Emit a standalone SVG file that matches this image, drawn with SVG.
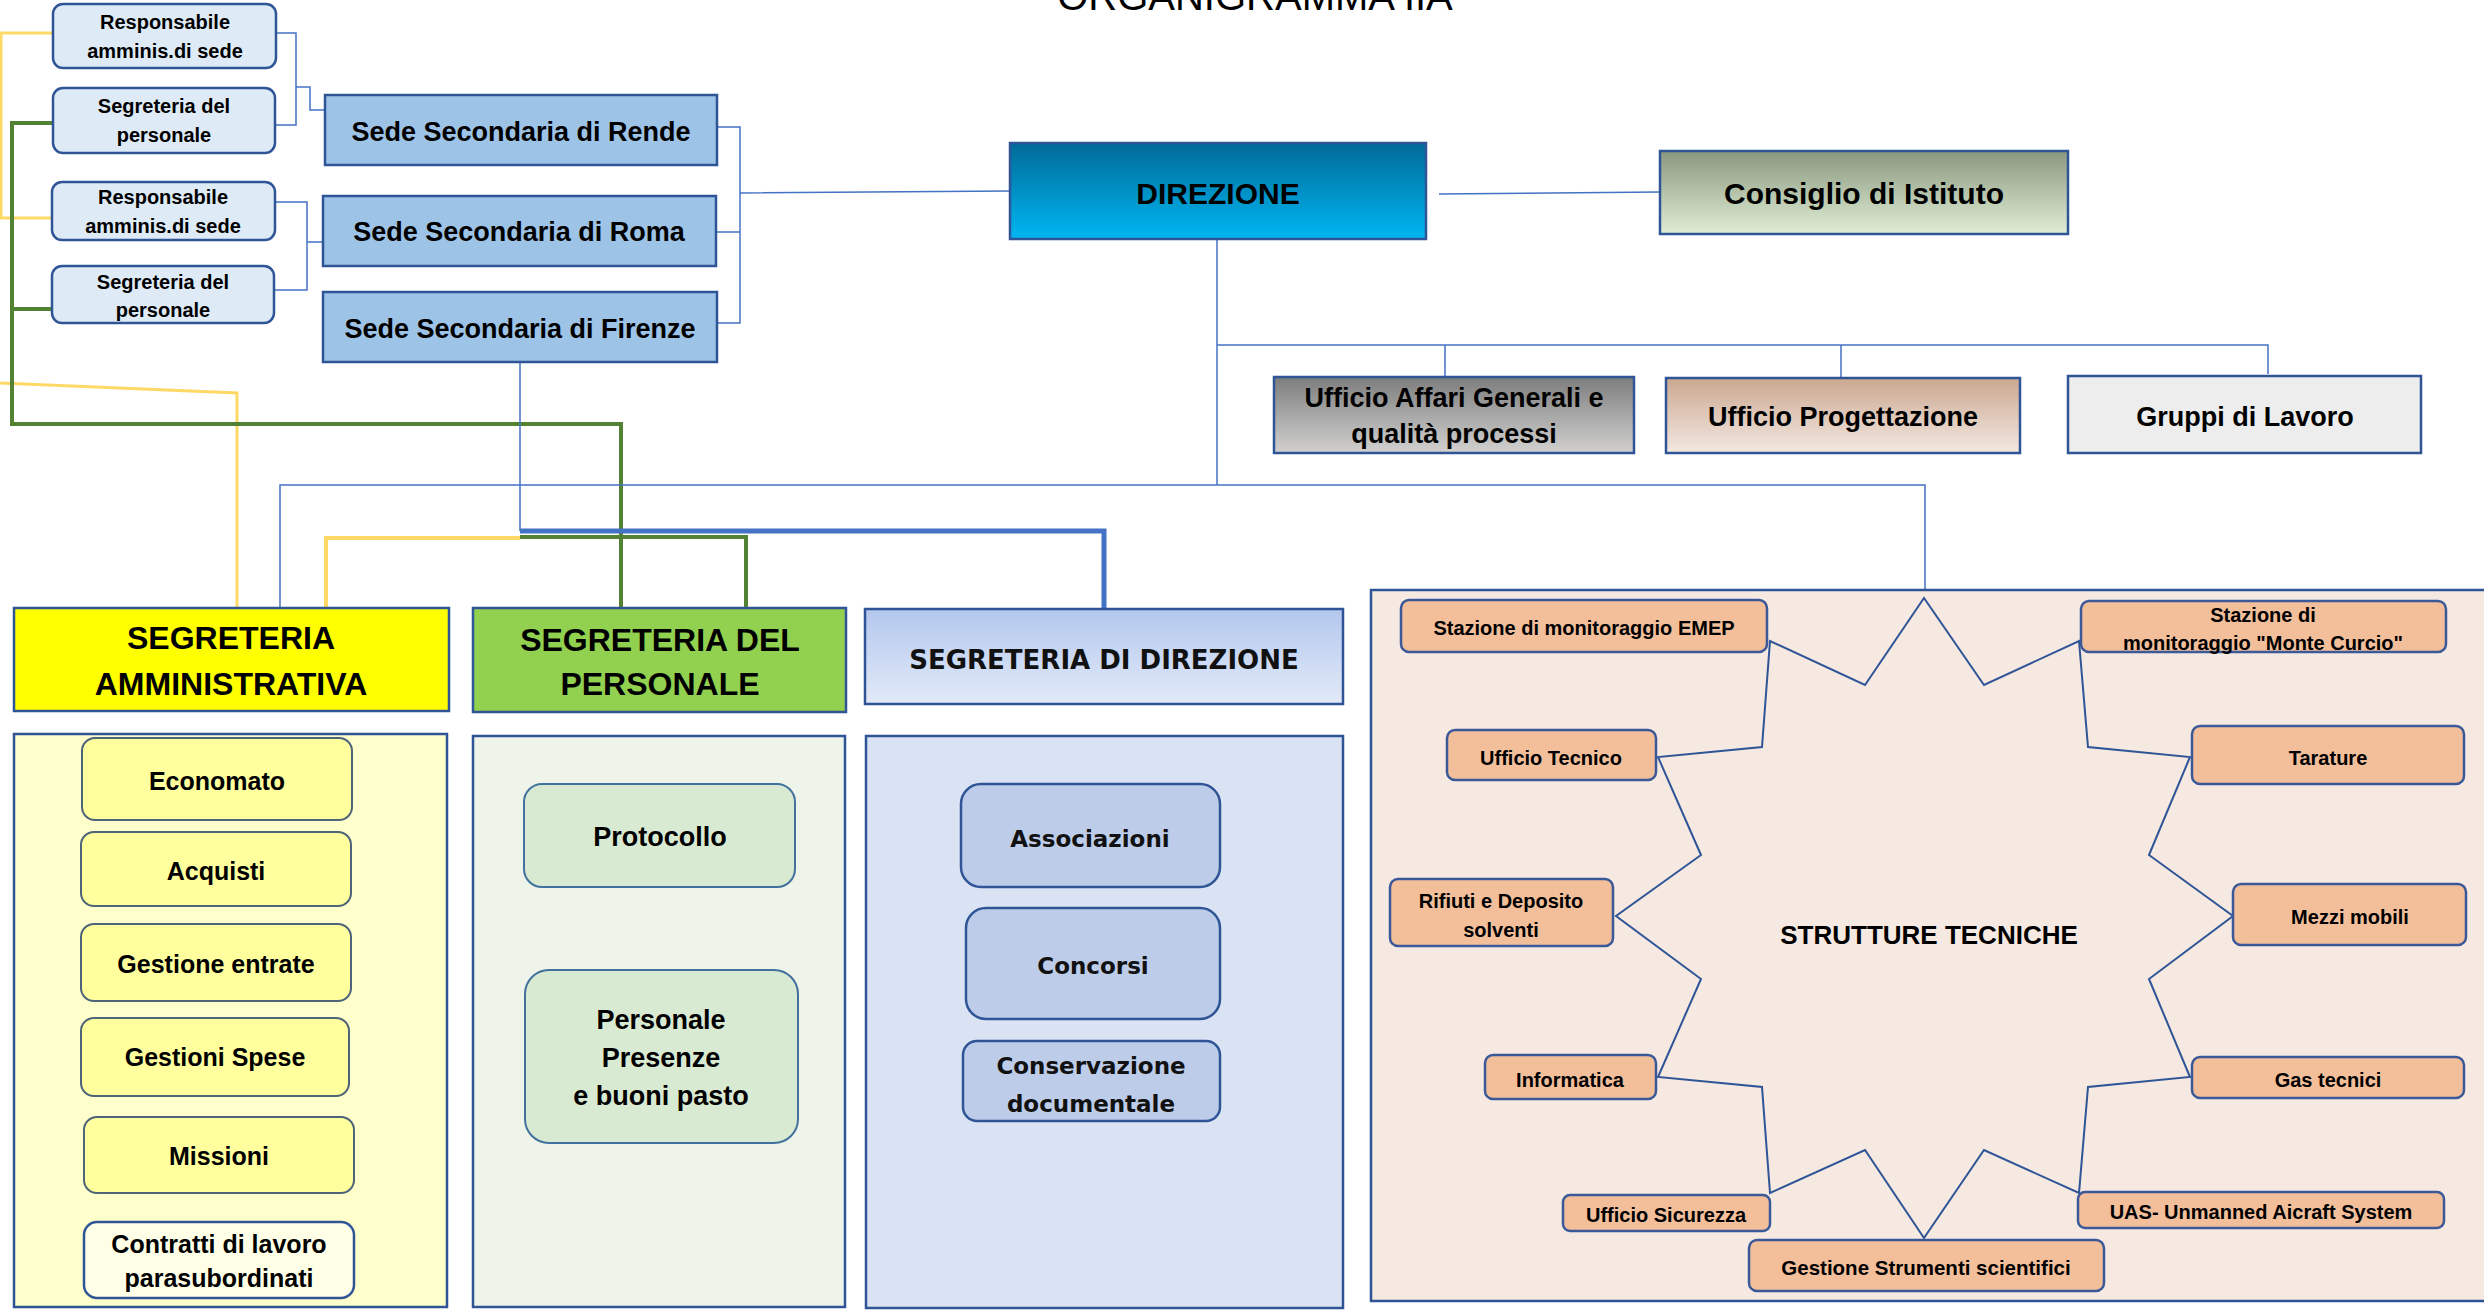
<svg xmlns="http://www.w3.org/2000/svg" width="2484" height="1312" viewBox="0 0 2484 1312">
<defs>
<linearGradient id="gDir" x1="0" y1="0" x2="0" y2="1"><stop offset="0" stop-color="#006A98"/><stop offset="1" stop-color="#00B6F2"/></linearGradient>
<linearGradient id="gCons" x1="0" y1="0" x2="0" y2="1"><stop offset="0" stop-color="#8A9880"/><stop offset="1" stop-color="#DFEED5"/></linearGradient>
<linearGradient id="gAff" x1="0" y1="0" x2="0" y2="1"><stop offset="0" stop-color="#7D7D7D"/><stop offset="1" stop-color="#D2D1D0"/></linearGradient>
<linearGradient id="gProg" x1="0" y1="0" x2="0" y2="1"><stop offset="0" stop-color="#CBA891"/><stop offset="1" stop-color="#F3E8E1"/></linearGradient>
<linearGradient id="gSDir" x1="0" y1="0" x2="0" y2="1"><stop offset="0" stop-color="#B3C7EE"/><stop offset="1" stop-color="#E2EAF8"/></linearGradient>
</defs>
<style>
.box{stroke:#2F5597;stroke-width:2.5}
.t{font-family:"Liberation Sans",Arial,sans-serif;font-weight:bold;text-anchor:middle;fill:#000}
.r{font-family:"Liberation Sans",Arial,sans-serif;text-anchor:middle;fill:#000}
.d{font-family:"DejaVu Sans",Verdana,sans-serif;font-weight:bold;text-anchor:middle;fill:#111}
.small{fill:#DEEBF7;stroke:#2F5597;stroke-width:2.5}
.sede{fill:#9DC3E6;stroke:#2F5597;stroke-width:2.5}
.yb{fill:#FFFF9E;stroke:#4E6479;stroke-width:2}
.gb{fill:#D9EAD3;stroke:#41719C;stroke-width:2}
.bb{fill:#BDCDE9;stroke:#2F5597;stroke-width:2.5}
.pb{fill:#F3BF9B;stroke:#3B5998;stroke-width:2.5}
.thin{fill:none;stroke:#4472C4;stroke-width:1.5}
.thick{fill:none;stroke:#4472C4;stroke-width:5}
.yel{fill:none;stroke:#FFD966;stroke-width:3}
.grn{fill:none;stroke:#548235;stroke-width:4}
.grn2{fill:none;stroke:#6A9F48;stroke-width:3.5}
.blu2{fill:none;stroke:#4472C4;stroke-width:4}
.yel2{fill:none;stroke:#FFD966;stroke-width:4}
</style>
<rect width="2484" height="1312" fill="#FFFFFF"/>
<text class="r" x="1255" y="10" font-size="40">ORGANIGRAMMA IIA</text>

<g id="connectors">
<path class="thin" d="M277,33 H296 V125 H275 M296,87 H310 V110 H325"/>
<path class="thin" d="M275,202 H307 V290 H274 M307,242 H323"/>
<path class="thin" d="M717,127 H740 V323 H717 M716,232 H740 M740,193 L1010,191"/>
<path class="thin" d="M1439,194 L1660,192"/>
<path class="thin" d="M1217,239 V485 M1217,345 H2268 V374 M1445,345 V377 M1841,345 V378"/>
<path class="yel" d="M53,33 H1 V218 H52"/>
<path class="yel" d="M0,383 L237,393 V608"/>
<path class="grn" d="M53,123 H12 V424 H621 V608 M52,309 H12"/>
<path class="thin" d="M520,362 V531 M280,608 V485 H1925 V598"/>
<path class="yel2" d="M520,538 H326 V608"/>
<path class="grn" d="M520,537 H746 V608"/>
<path class="thick" d="M520,531 H1104 V609"/>
<path class="yel2" d="M82,781 H54 V1256 H84 M54,874 H81 M54,963 H81 M54,1063 H81 M54,1159 H84"/>
<path class="grn2" d="M524,849 H510 V1022 H525"/>
<path class="blu2" d="M961,837 H953 V1081 H963 M953,963 H966"/>
</g>

<g id="resp1"><rect class="small" x="53" y="4" width="223" height="64" rx="10"/><text class="t" x="165" y="29" font-size="20">Responsabile</text><text class="t" x="165" y="58" font-size="20">amminis.di sede</text></g>
<g id="segpers1"><rect class="small" x="53" y="88" width="222" height="65" rx="10"/><text class="t" x="164" y="113" font-size="20">Segreteria del</text><text class="t" x="164" y="142" font-size="20">personale</text></g>
<g id="resp2"><rect class="small" x="52" y="182" width="223" height="58" rx="10"/><text class="t" x="163" y="204" font-size="20">Responsabile</text><text class="t" x="163" y="233" font-size="20">amminis.di sede</text></g>
<g id="segpers2"><rect class="small" x="52" y="266" width="222" height="57" rx="10"/><text class="t" x="163" y="289" font-size="20">Segreteria del</text><text class="t" x="163" y="317" font-size="20">personale</text></g>

<g id="rende"><rect class="sede" x="325" y="95" width="392" height="70"/><text class="t" x="521" y="141" font-size="27">Sede Secondaria di Rende</text></g>
<g id="roma"><rect class="sede" x="323" y="196" width="393" height="70"/><text class="t" x="519" y="241" font-size="27">Sede Secondaria di Roma</text></g>
<g id="firenze"><rect class="sede" x="323" y="292" width="394" height="70"/><text class="t" x="520" y="338" font-size="27">Sede Secondaria di Firenze</text></g>

<g id="direzione"><rect class="box" x="1010" y="143" width="416" height="96" fill="url(#gDir)"/><text class="t" x="1218" y="204" font-size="30">DIREZIONE</text></g>
<g id="consiglio"><rect class="box" x="1660" y="151" width="408" height="83" fill="url(#gCons)" stroke-width="3"/><text class="t" x="1864" y="204" font-size="30">Consiglio di Istituto</text></g>
<g id="affari"><rect class="box" x="1274" y="377" width="360" height="76" fill="url(#gAff)"/><text class="t" x="1454" y="407" font-size="27">Ufficio Affari Generali e</text><text class="t" x="1454" y="443" font-size="27">qualità processi</text></g>
<g id="progettazione"><rect class="box" x="1666" y="378" width="354" height="75" fill="url(#gProg)"/><text class="t" x="1843" y="426" font-size="27">Ufficio Progettazione</text></g>
<g id="gruppi"><rect class="box" x="2068" y="376" width="353" height="77" fill="#EDEDED"/><text class="t" x="2245" y="426" font-size="27">Gruppi di Lavoro</text></g>

<g id="seg-amm"><rect class="box" x="14" y="608" width="435" height="103" fill="#FFFF00" stroke-width="3"/><text class="t" x="231" y="649" font-size="32">SEGRETERIA</text><text class="t" x="231" y="695" font-size="32">AMMINISTRATIVA</text></g>
<g id="seg-pers"><rect class="box" x="473" y="608" width="373" height="104" fill="#92D050" stroke-width="3"/><text class="t" x="660" y="651" font-size="32">SEGRETERIA DEL</text><text class="t" x="660" y="695" font-size="32">PERSONALE</text></g>
<g id="seg-dir"><rect class="box" x="865" y="609" width="478" height="95" fill="url(#gSDir)"/><text class="d" x="1104" y="669" font-size="26">SEGRETERIA DI DIREZIONE</text></g>

<g id="amm-area"><rect class="box" x="14" y="734" width="433" height="573" fill="#FFFFCC"/></g>
<g id="pers-area"><rect class="box" x="473" y="736" width="372" height="571" fill="#EEF4E9"/></g>
<g id="dir-area"><rect class="box" x="866" y="736" width="477" height="572" fill="#DAE3F3"/></g>

<g id="economato"><rect class="yb" x="82" y="738" width="270" height="82" rx="13"/><text class="t" x="217" y="790" font-size="25" fill="#262626">Economato</text></g>
<g id="acquisti"><rect class="yb" x="81" y="832" width="270" height="74" rx="13"/><text class="t" x="216" y="880" font-size="25" fill="#262626">Acquisti</text></g>
<g id="entrate"><rect class="yb" x="81" y="924" width="270" height="77" rx="13"/><text class="t" x="216" y="973" font-size="25" fill="#262626">Gestione entrate</text></g>
<g id="spese"><rect class="yb" x="81" y="1018" width="268" height="78" rx="13"/><text class="t" x="215" y="1066" font-size="25" fill="#262626">Gestioni Spese</text></g>
<g id="missioni"><rect class="yb" x="84" y="1117" width="270" height="76" rx="13"/><text class="t" x="219" y="1165" font-size="25" fill="#262626">Missioni</text></g>
<g id="contratti"><rect x="84" y="1222" width="270" height="76" rx="13" fill="#FFFFE8" stroke="#2F5597" stroke-width="2.5"/><text class="t" x="219" y="1253" font-size="25">Contratti di lavoro</text><text class="t" x="219" y="1287" font-size="25">parasubordinati</text></g>

<g id="protocollo"><rect class="gb" x="524" y="784" width="271" height="103" rx="18"/><text class="t" x="660" y="846" font-size="27" fill="#333">Protocollo</text></g>
<g id="personale"><rect class="gb" x="525" y="970" width="273" height="173" rx="24"/><text class="t" x="661" y="1029" font-size="27" fill="#333">Personale</text><text class="t" x="661" y="1067" font-size="27" fill="#333">Presenze</text><text class="t" x="661" y="1105" font-size="27" fill="#333">e buoni pasto</text></g>

<g id="associazioni"><rect class="bb" x="961" y="784" width="259" height="103" rx="20"/><text class="d" x="1090" y="847" font-size="23">Associazioni</text></g>
<g id="concorsi"><rect class="bb" x="966" y="908" width="254" height="111" rx="20"/><text class="d" x="1093" y="974" font-size="23">Concorsi</text></g>
<g id="conservazione"><rect class="bb" x="963" y="1041" width="257" height="80" rx="14"/><text class="d" x="1091" y="1074" font-size="23">Conservazione</text><text class="d" x="1091" y="1112" font-size="23">documentale</text></g>

<g id="strutture">
<rect x="1371" y="590" width="1130" height="711" fill="#F6E9E1" stroke="#2F5597" stroke-width="2.5"/>
<path d="M1924,598 L1984,685 L2079,641 L2088,747 L2190,757 L2149,855 L2233,916 L2149,979 L2190,1077 L2088,1087 L2079,1193 L1984,1150 L1924,1238 L1865,1150 L1770,1193 L1762,1087 L1658,1077 L1701,979 L1616,916 L1701,855 L1658,757 L1762,747 L1770,641 L1865,685 Z" fill="none" stroke="#2F5597" stroke-width="2"/>
<text class="t" x="1929" y="944" font-size="26">STRUTTURE TECNICHE</text>
</g>
<g id="emep"><rect class="pb" x="1401" y="600" width="366" height="52" rx="8"/><text class="t" x="1584" y="635" font-size="20">Stazione di monitoraggio EMEP</text></g>
<g id="curcio"><rect class="pb" x="2081" y="601" width="365" height="51" rx="8"/><text class="t" x="2263" y="622" font-size="20">Stazione di</text><text class="t" x="2263" y="650" font-size="20">monitoraggio "Monte Curcio"</text></g>
<g id="tecnico"><rect class="pb" x="1447" y="730" width="209" height="50" rx="8"/><text class="t" x="1551" y="765" font-size="20">Ufficio Tecnico</text></g>
<g id="tarature"><rect class="pb" x="2192" y="726" width="272" height="58" rx="8"/><text class="t" x="2328" y="765" font-size="20">Tarature</text></g>
<g id="rifiuti"><rect class="pb" x="1390" y="879" width="223" height="67" rx="8"/><text class="t" x="1501" y="908" font-size="20">Rifiuti e Deposito</text><text class="t" x="1501" y="937" font-size="20">solventi</text></g>
<g id="mezzi"><rect class="pb" x="2233" y="884" width="233" height="61" rx="8"/><text class="t" x="2350" y="924" font-size="20">Mezzi mobili</text></g>
<g id="informatica"><rect class="pb" x="1485" y="1055" width="171" height="44" rx="8"/><text class="t" x="1570" y="1087" font-size="20">Informatica</text></g>
<g id="gas"><rect class="pb" x="2192" y="1057" width="272" height="41" rx="8"/><text class="t" x="2328" y="1087" font-size="20">Gas tecnici</text></g>
<g id="sicurezza"><rect class="pb" x="1563" y="1195" width="207" height="36" rx="7"/><text class="t" x="1666" y="1222" font-size="20">Ufficio Sicurezza</text></g>
<g id="uas"><rect class="pb" x="2078" y="1192" width="366" height="36" rx="7"/><text class="t" x="2261" y="1219" font-size="20">UAS- Unmanned Aicraft System</text></g>
<g id="strumenti"><rect class="pb" x="1749" y="1240" width="355" height="51" rx="8"/><text class="t" x="1926" y="1275" font-size="20.5">Gestione Strumenti scientifici</text></g>
</svg>
